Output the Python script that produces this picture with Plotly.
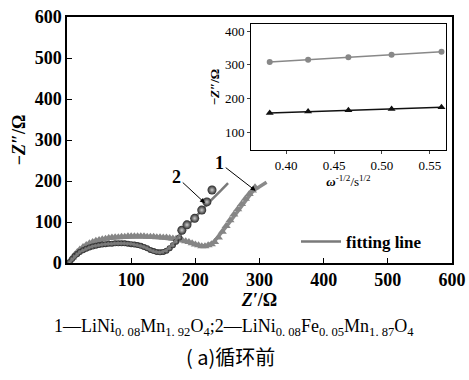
import plotly.graph_objects as go

# Curve 1: LiNi0.08Mn1.92O4 (gray triangles)
z1_re = [4, 8, 12, 16, 20, 25, 30, 35, 40, 45, 50, 55, 60, 65, 70, 75, 80, 85, 90, 95, 100, 105, 110,
         115, 120, 125, 130, 135, 140, 145, 150, 155, 160, 165, 170, 175, 180, 185, 190, 195, 200,
         205, 210, 215, 220, 225, 230, 236, 242, 248, 254, 260, 266, 272, 278, 284, 289, 293]
z1_im = [3, 12, 20, 27, 33, 39, 44, 48, 51, 54, 56, 58, 59, 61, 62, 63, 63, 64, 64, 65, 65, 65, 65,
         65, 65, 64, 64, 64, 63, 63, 62, 62, 61, 60, 59, 57, 55, 53, 51, 48, 45,
         43, 41, 41, 43, 46, 51, 62, 76, 90, 104, 118, 131, 144, 157, 168, 177, 185]
fit1_re = [4, 20, 40, 60, 80, 100, 120, 140, 160, 180, 196, 207, 217, 228, 250, 270, 290, 311]
fit1_im = [3, 33, 51, 59, 62, 64, 64, 63, 60, 55, 48, 42, 42, 50, 92, 134, 176, 197]

# Curve 2: LiNi0.08Fe0.05Mn1.87O4 (dark spheres)
z2_re = [4, 8, 12, 16, 20, 25, 30, 35, 40, 45, 50, 55, 60, 65, 70, 75, 80, 85, 90, 95, 100, 105, 110,
         115, 120, 125, 130, 135, 140, 145, 150, 155, 160, 165, 170, 175]
z2_im = [2, 10, 17, 22, 27, 31, 35, 38, 40, 42, 44, 45, 46, 47, 47, 48, 48, 48, 48, 47, 46, 45, 44,
         42, 39, 36, 32, 29, 27, 26, 27, 30, 36, 43, 52, 62]
z2b_re = [179, 187, 199, 210, 218, 226]
z2b_im = [80, 93, 109, 129, 149, 178]
fit2_re = [4, 20, 40, 60, 80, 100, 120, 135, 145, 155, 165, 180, 200, 220, 240, 251]
fit2_im = [2, 27, 41, 46, 48, 47, 39, 28, 25, 31, 47, 77, 112, 146, 177, 195]

# Inset: Z'' vs omega^-1/2
w_inv = [0.383, 0.423, 0.465, 0.510, 0.562]
ins_gray = [308, 315, 322, 330, 339]
ins_black = [157, 161, 165, 169, 174]

main_ticks = [100, 200, 300, 400, 500, 600]
main_yticks = [0, 100, 200, 300, 400, 500, 600]
ins_xticks = [0.40, 0.45, 0.50, 0.55]
ins_yticks = [100, 200, 300, 400]

SERIF = "Liberation Serif"
W, H = 469, 380
L, R, T, B = 67, 452, 17, 263  # plot frame in screen pixels
PW, PH = R - L, B - T


def px(xp):
    return (xp - L) / PW


def py(yp):
    return (B - yp) / PH


fig = go.Figure()

fig.add_trace(go.Scatter(x=fit1_re, y=fit1_im, mode="lines", line=dict(color="#8a8a8a", width=3.5),
                         showlegend=False))
fig.add_trace(go.Scatter(x=z1_re, y=z1_im, mode="markers",
                         marker=dict(symbol="triangle-up", size=8, color="#858585"),
                         showlegend=False))
fig.add_trace(go.Scatter(x=z2_re, y=z2_im, mode="markers",
                         marker=dict(symbol="circle", size=6, color="#252525",
                                     gradient=dict(type="radial", color="#aaaaaa")),
                         showlegend=False))
fig.add_trace(go.Scatter(x=fit2_re, y=fit2_im, mode="lines", line=dict(color="#7a7a7a", width=2.5),
                         name="fitting line", showlegend=True))
fig.add_trace(go.Scatter(x=z2b_re, y=z2b_im, mode="markers",
                         marker=dict(symbol="circle", size=9, color="#252525",
                                     gradient=dict(type="radial", color="#cccccc")),
                         showlegend=False))

# inset
fig.add_trace(go.Scatter(x=w_inv, y=ins_gray, mode="lines+markers", xaxis="x2", yaxis="y2",
                         line=dict(color="#888888", width=1.5),
                         marker=dict(symbol="circle", size=6, color="#888888"), showlegend=False))
fig.add_trace(go.Scatter(x=w_inv, y=ins_black, mode="lines+markers", xaxis="x2", yaxis="y2",
                         line=dict(color="#111111", width=1.5),
                         marker=dict(symbol="triangle-up", size=7, color="#111111"), showlegend=False))

fig.update_layout(
    width=W, height=H,
    margin=dict(l=L, r=W - R, t=T, b=H - B, autoexpand=False),
    paper_bgcolor="white", plot_bgcolor="white",
    font=dict(family=SERIF, color="black", size=16),
    xaxis=dict(range=[0, 600], tickvals=main_ticks, ticks="inside", ticklen=5, tickcolor="black",
               showline=True, linecolor="black", linewidth=1.5, mirror=True, showgrid=False, zeroline=False,
               ticklabeloverflow="allow",
               tickfont=dict(family=SERIF, size=18, color="black", weight="bold"),
               title=dict(text="<b><i>Z′</i>/Ω</b>", standoff=2, font=dict(family=SERIF, size=18, color="black"))),
    yaxis=dict(range=[0, 600], tickvals=main_yticks, ticks="inside", ticklen=5, tickcolor="black",
               showline=True, linecolor="black", linewidth=1.5, mirror=True, showgrid=False, zeroline=False,
               ticklabeloverflow="allow",
               tickfont=dict(family=SERIF, size=18, color="black", weight="bold"),
               title=dict(text="<b>−<i>Z″</i>/Ω</b>", standoff=4, font=dict(family=SERIF, size=18, color="black"))),
    xaxis2=dict(domain=[px(251), px(446)], anchor="y2", range=[0.3635, 0.5667], tickvals=ins_xticks,
                tickformat=".2f", ticks="outside", ticklen=3, showline=True, linecolor="black",
                linewidth=1, mirror=True, showgrid=False, zeroline=False,
                tickfont=dict(family=SERIF, size=13, color="black"),
                title=dict(text="<b><i>ω</i></b><sup>-1/2</sup>/s<sup>1/2</sup>", standoff=1,
                           font=dict(family=SERIF, size=13, color="black"))),
    yaxis2=dict(domain=[py(150), py(24)], anchor="x2", range=[47, 421], tickvals=ins_yticks,
                ticks="outside", ticklen=3, showline=True, linecolor="black",
                linewidth=1, mirror=True, showgrid=False, zeroline=False,
                tickfont=dict(family=SERIF, size=13, color="black"),
                title=dict(text="<b>−<i>Z″</i>/Ω</b>", standoff=2, font=dict(family=SERIF, size=13, color="black"))),
    legend=dict(x=px(296), y=py(242), xanchor="left", yanchor="middle", bgcolor="rgba(0,0,0,0)",
                font=dict(family=SERIF, size=17, color="black", weight="bold"),
                itemwidth=40, tracegroupgap=0),
    annotations=[
        dict(x=215, y=146, ax=171, ay=210, xref="x", yref="y", axref="x", ayref="y",
             text="<b>2</b>", showarrow=True, arrowhead=2, arrowsize=1, arrowwidth=1, arrowcolor="black",
             font=dict(family=SERIF, size=18, color="black")),
        dict(x=294, y=176, ax=238, ay=244, xref="x", yref="y", axref="x", ayref="y",
             text="<b>1</b>", showarrow=True, arrowhead=2, arrowsize=1, arrowwidth=1, arrowcolor="black",
             font=dict(family=SERIF, size=18, color="black")),
        dict(x=px(234), y=py(327), xref="paper", yref="paper", xanchor="center", yanchor="middle",
             showarrow=False,
             text="1—LiNi<sub>0. 08</sub>Mn<sub>1. 92</sub>O<sub>4</sub>;2—LiNi<sub>0. 08</sub>Fe<sub>0. 05</sub>Mn<sub>1. 87</sub>O<sub>4</sub>",
             font=dict(family=SERIF, size=18, color="black")),
        dict(x=px(230), y=py(356), xref="paper", yref="paper", xanchor="center", yanchor="middle",
             showarrow=False, text="( a)循环前",
             font=dict(family="Noto Sans CJK SC, " + SERIF, size=20, color="black")),
    ],
)

fig.write_html("out.html", config={"displayModeBar": False},
               post_script="document.body.style.margin='0';")
